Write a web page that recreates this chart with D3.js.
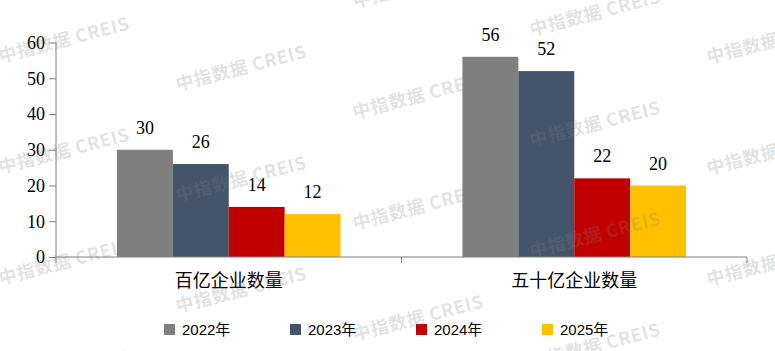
<!DOCTYPE html>
<html>
<head>
<meta charset="utf-8">
<script src="https://cdn.jsdelivr.net/npm/d3@7"></script>
<style>
  body { margin: 0; background: #fff; }
</style>
</head>
<body>
<script>
// data
var categories = ["百亿企业数量", "五十亿企业数量"];
var seriesNames = ["2022年", "2023年", "2024年", "2025年"];
var values2022 = [30, 56];
var values2023 = [26, 52];
var values2024 = [14, 22];
var values2025 = [12, 20];
var yTicks = [0, 10, 20, 30, 40, 50, 60];
var colors = ["#7f7f7f", "#44546a", "#c00000", "#ffc000"];

var allValues = [values2022, values2023, values2024, values2025];

var width = 775;
var height = 351;
var serif = "Liberation Serif, DejaVu Serif, Noto Sans CJK SC, serif";
var sans = "Liberation Sans, Arial, Noto Sans CJK SC, sans-serif";

var svg = d3.select("body").append("svg")
    .attr("width", width)
    .attr("height", height);

// scales
var x0 = d3.scaleBand()
    .domain(categories)
    .range([56, 747])
    .paddingInner(0)
    .paddingOuter(0);

var x1 = d3.scaleBand()
    .domain(seriesNames)
    .range([0, x0.bandwidth()])
    .paddingInner(0)
    .paddingOuter(1.09);

var y = d3.scaleLinear()
    .domain([0, 60])
    .range([257, 42.5]);

// bars
var groups = svg.append("g").selectAll("g")
    .data(categories)
    .enter().append("g")
    .attr("transform", function (d) { return "translate(" + x0(d) + ",0)"; });

groups.selectAll("rect")
    .data(function (d, i) {
        return seriesNames.map(function (s, k) { return { s: s, k: k, v: allValues[k][i] }; });
    })
    .enter().append("rect")
    .attr("x", function (d) { return x1(d.s); })
    .attr("y", function (d) { return y(d.v); })
    .attr("width", x1.bandwidth())
    .attr("height", function (d) { return y(0) - y(d.v); })
    .attr("fill", function (d) { return colors[d.k]; });

// value labels
groups.selectAll("text")
    .data(function (d, i) {
        return seriesNames.map(function (s, k) { return { s: s, k: k, v: allValues[k][i] }; });
    })
    .enter().append("text")
    .attr("x", function (d) { return x1(d.s) + x1.bandwidth() / 2; })
    .attr("y", function (d) { return y(d.v) - 16; })
    .attr("text-anchor", "middle")
    .attr("font-family", serif)
    .attr("font-size", 18)
    .attr("fill", "#000")
    .text(function (d) { return d.v; });

// y axis
var yAxis = d3.axisLeft(y).tickValues(yTicks).tickSize(7).tickPadding(4);
var yAxisGroup = svg.append("g")
    .attr("class", "y axis")
    .attr("transform", "translate(56,0)")
    .call(yAxis);
yAxisGroup.attr("font-family", serif).attr("font-size", 18);
yAxisGroup.select(".domain").attr("stroke", "#808080").attr("d", "M0," + y(60) + "V" + y(0));
yAxisGroup.selectAll(".tick line").attr("stroke", "#808080");
yAxisGroup.selectAll("text").attr("fill", "#000");

// x axis
var xAxisGroup = svg.append("g")
    .attr("class", "x axis")
    .attr("transform", "translate(0," + y(0) + ")");
xAxisGroup.append("line")
    .attr("x1", x0.range()[0]).attr("x2", x0.range()[1])
    .attr("stroke", "#808080");
var bounds = [x0(categories[0]), x0(categories[1]), x0(categories[1]) + x0.bandwidth()];
xAxisGroup.selectAll(".xtick")
    .data(bounds)
    .enter().append("line")
    .attr("x1", function (d) { return d; }).attr("x2", function (d) { return d; })
    .attr("y1", 0).attr("y2", 6)
    .attr("stroke", "#808080");
xAxisGroup.selectAll(".xlabel")
    .data(categories)
    .enter().append("text")
    .attr("x", function (d) { return x0(d) + x0.bandwidth() / 2; })
    .attr("y", 30)
    .attr("text-anchor", "middle")
    .attr("font-family", serif)
    .attr("font-size", 18)
    .attr("fill", "#000")
    .text(function (d) { return d; });

// legend
var legend = svg.append("g").selectAll("g")
    .data(seriesNames)
    .enter().append("g")
    .attr("transform", function (d, i) { return "translate(" + (164 + i * 126) + ",324)"; });
legend.append("rect")
    .attr("width", 11).attr("height", 11)
    .attr("fill", function (d, i) { return colors[i]; });
legend.append("text")
    .attr("x", 18).attr("y", 11)
    .attr("font-family", sans)
    .attr("font-size", 15)
    .attr("fill", "#000")
    .text(function (d) { return d; });

// watermark
var marks = [];
for (var i = 0; i < 5; i++) {
    for (var j = -2; j < 4; j++) {
        var cx = 64 + 177 * i;
        var cy = 40 + 28 * i + 111 * j;
        if (cy > -30 && cy < height + 30) marks.push([cx, cy]);
    }
}
svg.append("g").selectAll("text")
    .data(marks)
    .enter().append("text")
    .attr("transform", function (d) { return "translate(" + d[0] + "," + d[1] + ") rotate(-14.5)"; })
    .attr("text-anchor", "middle")
    .attr("dy", "0.35em")
    .attr("font-family", "Noto Sans CJK SC, Noto Sans, sans-serif")
    .attr("font-weight", "bold")
    .attr("font-size", 18)
    .attr("letter-spacing", 0.6)
    .attr("fill", "#808080")
    .attr("fill-opacity", 0.24)
    .text("中指数据 CREIS");
</script>
</body>
</html>
